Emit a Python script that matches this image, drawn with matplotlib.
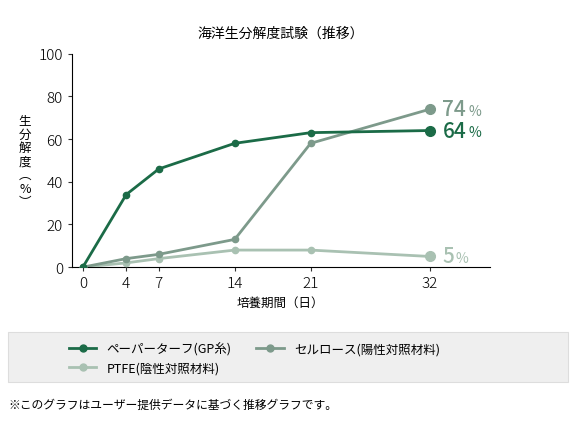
import matplotlib
matplotlib.use("Agg")
import matplotlib.pyplot as plt
from matplotlib.patches import Rectangle
from matplotlib.lines import Line2D

plt.rcParams['font.family'] = ['Noto Sans CJK JP', 'DejaVu Sans']

days = [0, 4, 7, 14, 21, 32]
paper = [0, 34, 46, 58, 63, 64]
cellulose = [0, 4, 6, 13, 58, 74]
ptfe = [0, 2, 4, 8, 8, 5]
names = ["ペーパーターフ(GP糸)", "セルロース(陽性対照材料)", "PTFE(陰性対照材料)"]
colors = ["#1b6b47", "#7d9a8b", "#a9c1b2"]
series = [paper, cellulose, ptfe]
end_labels = ["64", "74", "5"]

fig = plt.figure(figsize=(5.76, 4.27), dpi=100)
ax = fig.add_axes([0.125, 0.372, 0.725, 0.50])
for s, c in zip(series[::-1], colors[::-1]):
    ax.plot(days, s, color=c, lw=2, marker='o', ms=4.5, zorder=3)
for s, c in zip(series, colors):
    ax.plot([days[-1]], [s[-1]], 'o', color=c, ms=7, zorder=4)
for s, c, t in zip(series, colors, end_labels):
    ax.annotate(t, (days[-1], s[-1]), xytext=(9, 0), textcoords='offset points',
                va='center', fontsize=15, color=c, fontweight='medium')
    ax.annotate("%", (days[-1], s[-1]), xytext=(9 + 9.5 * len(t), -1), textcoords='offset points',
                va='center', fontsize=10, color=c)
ax.set_xlim(-1, 37.5)
ax.set_ylim(0, 100)
ax.set_xticks(days)
ax.set_yticks([0, 20, 40, 60, 80, 100])
ax.tick_params(labelsize=11, length=3, color='#333')
for lab in ax.get_xticklabels() + ax.get_yticklabels():
    lab.set_fontweight('light')
for sp in ['top', 'right']:
    ax.spines[sp].set_visible(False)
ax.set_title("海洋生分解度試験（推移）", fontsize=10, pad=12)
ax.set_xlabel("培養期間（日）", fontsize=9)
fig.text(0.043, 0.62, "生\n分\n解\n度\n︵\n%\n︶", fontsize=9, ha='center', va='center', linespacing=1.05)

fig.patches.append(Rectangle((0.014, 0.103), 0.972, 0.117, transform=fig.transFigure,
                             facecolor='#efefef', edgecolor='#dddddd', lw=0.8))
handles = [Line2D([], [], color=c, lw=2, marker='o', ms=5) for c in colors]
fig.legend(handles[:2], names[:2], loc='center left', bbox_to_anchor=(0.1, 0.18), ncol=2,
           frameon=False, fontsize=9, handlelength=2.2, columnspacing=2)
fig.legend(handles[2:], names[2:], loc='center left', bbox_to_anchor=(0.1, 0.135),
           frameon=False, fontsize=9, handlelength=2.2)
fig.text(0.015, 0.05, "※このグラフはユーザー提供データに基づく推移グラフです。", fontsize=8.5, va='center')
fig.savefig("out.png", dpi=100)
